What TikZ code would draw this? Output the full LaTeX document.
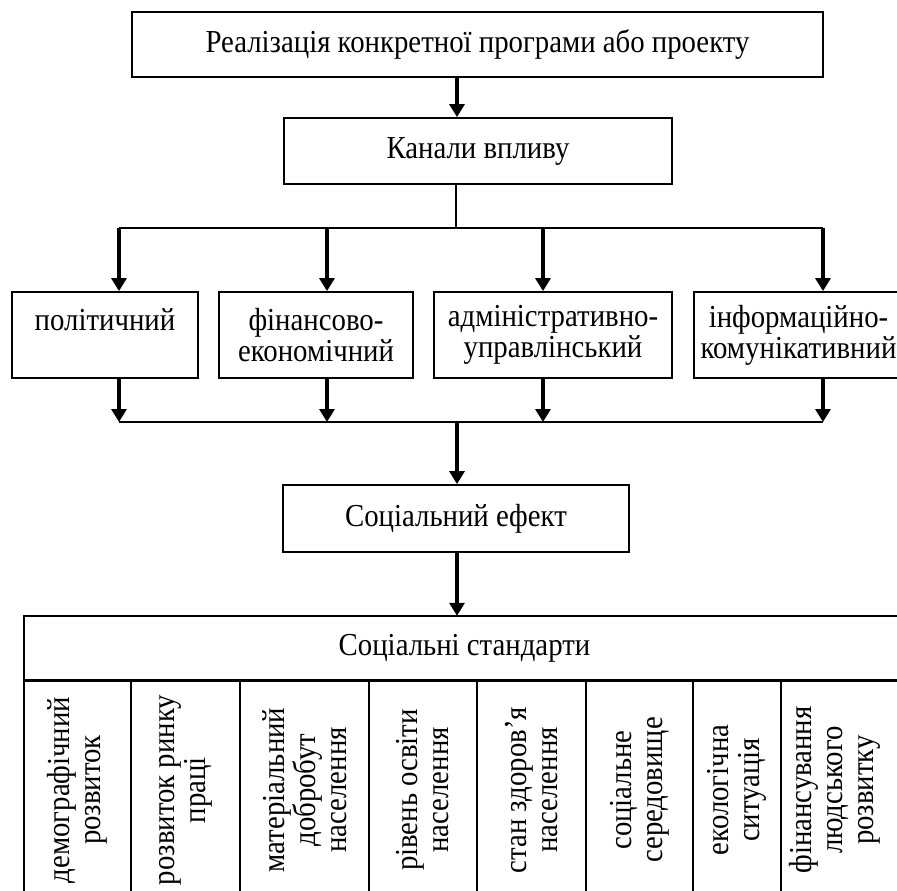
\documentclass[tikz,border=0pt]{standalone}
\usepackage{fontspec}
\setmainfont{Liberation Serif}[FakeStretch=0.9]
\usetikzlibrary{arrows.meta,calc}
\begin{document}
\begin{tikzpicture}[x=1pt,y=-1pt,
  every node/.style={font=\fontsize{32}{31}\selectfont, inner sep=0pt},
  box/.style={draw, line width=1.8pt, align=center},
  arr/.style={line width=3.2pt, -{Triangle[width=15pt,length=13pt]}},
  bus/.style={line width=2pt},
  tline/.style={line width=1.8pt},
  thickline/.style={line width=3pt},
  vtext/.style={rotate=90, align=center}
]
\useasboundingbox (0,0) rectangle (897,891);
% x positions of connectors
\coordinate (xm) at (457,0);
\coordinate (xk) at (456,0);
\coordinate (x1) at (119,0);
\coordinate (x2) at (327,0);
\coordinate (x3) at (543,0);
\coordinate (x4) at (823,0);
\coordinate (busT) at (0,228);
\coordinate (busB) at (0,422);

% boxes
\node[box, minimum width=691pt, minimum height=65pt] (top) at (477.5,44.5) {Реалізація конкретної програми або проекту};
\node[box, minimum width=388pt, minimum height=66pt] (kanaly) at (478,151) {Канали впливу};
\node[box, minimum width=186pt, minimum height=86pt] (b1) at (105,335) {політичний\\\mbox{}};
\node[box, minimum width=194pt, minimum height=86pt] (b2) at (316,335) {фінансово-\\економічний};
\node[box, minimum width=238pt, minimum height=86pt] (b3) at (553,335) {адміністративно-\\управлінський};
\node[box, minimum width=209pt, minimum height=86pt] (b4) at (798.5,335) {інформаційно-\\комунікативний};
\node[box, minimum width=346pt, minimum height=67pt] (socef) at (456,518.5) {Соціальний ефект};

% table header
\node[minimum width=881pt, minimum height=64pt] (std) at (464.5,648) {Соціальні стандарти};
\draw[tline] (24,905) -- (24,616) -- (910,616);
\draw[thickline] (24,680) -- (910,680);
\foreach \cx in {131,240,369,477,586,693,781}
  \draw[tline] (\cx,680) -- (\cx,905);

% column texts
\node[vtext] (c1) at (77.5,790) {демографічний\\розвиток};
\node[vtext] (c2) at (185.5,790) {розвиток ринку\\праці};
\node[vtext] (c3) at (304.5,790) {матеріальний\\добробут\\населення};
\node[vtext] (c4) at (423,790) {рівень освіти\\населення};
\node[vtext] (c5) at (531.5,790) {стан здоров’я\\населення};
\node[vtext] (c6) at (639.5,790) {соціальне\\середовище};
\node[vtext] (c7) at (737,790) {екологічна\\ситуація};
\node[vtext] (c8) at (835,790) {фінансування\\людського\\розвитку};

% connectors
\draw[arr] (top.south -| xm) -- (kanaly.north -| xm);
\draw[bus] (kanaly.south -| xk) -- (xk |- busT);
\draw[bus] (x1 |- busT) -- (x4 |- busT);
\foreach \i in {1,2,3,4}
  \draw[arr] (x\i |- busT) -- (b\i.north -| x\i);
\foreach \i in {1,2,3,4}
  \draw[arr] (b\i.south -| x\i) -- (x\i |- busB);
\draw[bus] (x1 |- busB) -- (x4 |- busB);
\draw[arr] (xm |- busB) -- (socef.north -| xm);
\draw[arr] (socef.south -| xm) -- (std.north -| xm);
\end{tikzpicture}
\end{document}
